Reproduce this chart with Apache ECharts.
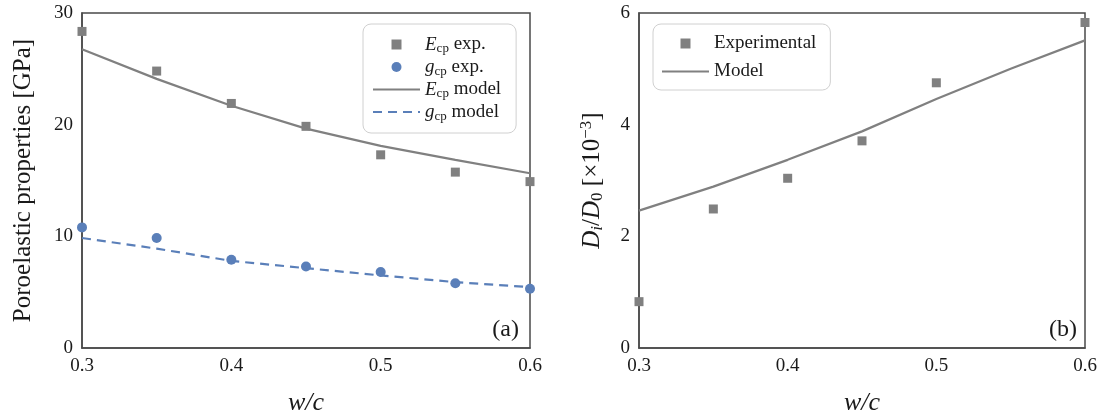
<!DOCTYPE html>
<html>
<head>
<meta charset="utf-8">
<script src="https://cdn.jsdelivr.net/npm/echarts@6/dist/echarts.min.js"></script>
<style>
html,body{margin:0;padding:0;background:#fff;}
#main{width:1113px;height:416px;}
</style>
</head>
<body>
<div id="main"></div>
<script>
// ---- data ----
var wc = [0.3, 0.35, 0.4, 0.45, 0.5, 0.55, 0.6];
var EcpExp   = [28.35, 24.8, 21.9, 19.85, 17.3, 15.75, 14.9];
var EcpModel = [26.75, 24.1, 21.7, 19.65, 18.1, 16.85, 15.65];
var gcpExp   = [10.8, 9.85, 7.9, 7.3, 6.8, 5.8, 5.3];
var gcpModel = [9.85, 8.9, 7.8, 7.15, 6.5, 5.9, 5.45];
var wcB = [0.3, 0.35, 0.4, 0.45, 0.5, 0.6];
var DiExp = [0.83, 2.49, 3.04, 3.71, 4.75, 5.83];
var DiModel = [2.46, 2.89, 3.37, 3.88, 4.46, 5.0, 5.51];

function pairs(xs, ys) { return ys.map(function (y, i) { return [xs[i], y]; }); }

var GRAY = '#808080', BLUE = '#5a7fb9', AX = '#4a4a4a', TXT = '#1a1a1a';
var FONT = '"Liberation Serif", "DejaVu Serif", serif';

var richBase = {
  i: { fontStyle: 'italic', fontFamily: FONT, fontSize: 19, color: TXT },
  s: { fontFamily: FONT, fontSize: 13, color: TXT, padding: [9, 0, 0, 0] },
  n: { fontFamily: FONT, fontSize: 19, color: TXT }
};

function xAxisCfg(gi) {
  return {
    gridIndex: gi, type: 'value', min: 0.3, max: 0.6, interval: 0.1,
    axisLine: { show: true, lineStyle: { color: AX, width: 1.5 } },
    axisTick: { show: false }, splitLine: { show: false },
    axisLabel: { fontFamily: FONT, fontSize: 19, color: TXT, margin: 9,
      formatter: function (v) { return v.toFixed(1); } },
    name: 'w/c', nameLocation: 'middle', nameGap: 42,
    nameTextStyle: { fontFamily: FONT, fontSize: 26, fontStyle: 'italic', color: TXT }
  };
}

var E_NAME = 'Ecp exp.', G_NAME = 'gcp exp.', EM_NAME = 'Ecp model', GM_NAME = 'gcp model';
var hideDot = { opacity: 0 };

var option = {
  backgroundColor: '#fff',
  animation: false,
  grid: [
    { left: 82, top: 13, width: 448, height: 335, show: true, borderColor: AX, borderWidth: 1.5,
      containLabel: false, outerBoundsMode: 'none' },
    { left: 639, top: 13, width: 446, height: 335, show: true, borderColor: AX, borderWidth: 1.5,
      containLabel: false, outerBoundsMode: 'none' }
  ],
  xAxis: [xAxisCfg(0), xAxisCfg(1)],
  yAxis: [
    {
      gridIndex: 0, type: 'value', min: 0, max: 30, interval: 10,
      axisLine: { show: true, lineStyle: { color: AX, width: 1.5 } },
      axisTick: { show: false }, splitLine: { show: false },
      axisLabel: { fontFamily: FONT, fontSize: 19, color: TXT, margin: 9 },
      name: 'Poroelastic properties [GPa]', nameLocation: 'middle', nameGap: 46, nameRotate: 90,
      nameTextStyle: { fontFamily: FONT, fontSize: 25, color: TXT }
    },
    {
      gridIndex: 1, type: 'value', min: 0, max: 6, interval: 2,
      axisLine: { show: true, lineStyle: { color: AX, width: 1.5 } },
      axisTick: { show: false }, splitLine: { show: false },
      axisLabel: { fontFamily: FONT, fontSize: 19, color: TXT, margin: 9 },
      name: '{i|D}{si|i}{n|/}{i|D}{s|0} {n|[×10}{sup|−3}{n|]}', nameLocation: 'middle', nameGap: 32, nameRotate: 90,
      nameTextStyle: {
        fontFamily: FONT, fontSize: 25, color: TXT,
        rich: {
          i: { fontFamily: FONT, fontSize: 25, fontStyle: 'italic', color: TXT },
          si: { fontFamily: FONT, fontSize: 17, fontStyle: 'italic', color: TXT, padding: [11, 0, 0, 0] },
          s: { fontFamily: FONT, fontSize: 17, color: TXT, padding: [11, 0, 0, 0] },
          n: { fontFamily: FONT, fontSize: 25, color: TXT },
          sup: { fontFamily: FONT, fontSize: 17, color: TXT, padding: [0, 0, 12, 0] }
        }
      }
    }
  ],
  legend: [
    {
      data: [
        { name: E_NAME, icon: 'path://M0,0H10V10H0Z' },
        { name: G_NAME, icon: 'circle' },
        { name: EM_NAME, itemStyle: hideDot },
        { name: GM_NAME, itemStyle: hideDot }
      ],
      orient: 'vertical', left: 363, top: 24,
      itemWidth: 47, itemHeight: 10, itemGap: 2, symbolKeepAspect: true,
      padding: [11, 15, 10, 9],
      borderColor: '#d0d0d0', borderWidth: 1, borderRadius: 8,
      formatter: function (name) {
        var parts = name.split(' ');
        var sym = parts[0];
        return '{i|' + sym.charAt(0) + '}{s|cp}{n| ' + parts[1] + '}';
      },
      textStyle: { fontFamily: FONT, fontSize: 19, color: TXT, rich: richBase }
    },
    {
      data: [
        { name: 'Experimental', icon: 'path://M0,0H10V10H0Z' },
        { name: 'Model', itemStyle: hideDot }
      ],
      orient: 'vertical', left: 653, top: 24,
      itemWidth: 47, itemHeight: 10, itemGap: 9, symbolKeepAspect: true,
      padding: [10, 14, 9, 8],
      borderColor: '#d0d0d0', borderWidth: 1, borderRadius: 8,
      textStyle: { fontFamily: FONT, fontSize: 19, color: TXT }
    }
  ],
  graphic: [
    { type: 'text', right: 1113 - 519, top: 318, style: { text: '(a)', font: '24px ' + FONT, fill: TXT } },
    { type: 'text', right: 1113 - 1077, top: 318, style: { text: '(b)', font: '24px ' + FONT, fill: TXT } }
  ],
  series: [
    { name: EM_NAME, type: 'line', xAxisIndex: 0, yAxisIndex: 0, data: pairs(wc, EcpModel),
      symbol: 'none', lineStyle: { color: GRAY, width: 2.2 }, itemStyle: { color: GRAY }, z: 2 },
    { name: GM_NAME, type: 'line', xAxisIndex: 0, yAxisIndex: 0, data: pairs(wc, gcpModel),
      symbol: 'none', lineStyle: { color: BLUE, width: 2.2, type: [9, 6] }, itemStyle: { color: BLUE }, z: 2 },
    { name: E_NAME, type: 'scatter', xAxisIndex: 0, yAxisIndex: 0, data: pairs(wc, EcpExp),
      symbol: 'rect', symbolSize: 9, itemStyle: { color: GRAY, opacity: 1 }, z: 3 },
    { name: G_NAME, type: 'scatter', xAxisIndex: 0, yAxisIndex: 0, data: pairs(wc, gcpExp),
      symbol: 'circle', symbolSize: 10, itemStyle: { color: BLUE, opacity: 1 }, z: 3 },
    { name: 'Model', type: 'line', xAxisIndex: 1, yAxisIndex: 1, data: pairs(wc, DiModel),
      symbol: 'none', lineStyle: { color: GRAY, width: 2.2 }, itemStyle: { color: GRAY }, z: 2 },
    { name: 'Experimental', type: 'scatter', xAxisIndex: 1, yAxisIndex: 1, data: pairs(wcB, DiExp),
      symbol: 'rect', symbolSize: 9, itemStyle: { color: GRAY, opacity: 1 }, z: 3 }
  ]
};

var chart = echarts.init(document.getElementById('main'), null, { renderer: 'canvas' });
chart.setOption(option);
</script>
</body>
</html>
